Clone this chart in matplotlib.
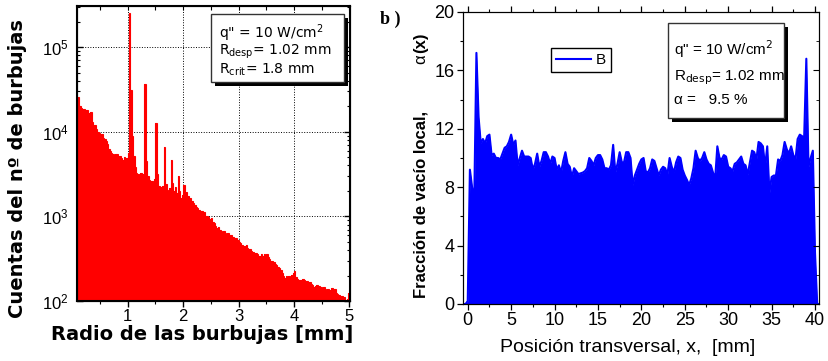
import numpy as np
import matplotlib.pyplot as plt
from matplotlib.patches import Rectangle
from matplotlib.ticker import MultipleLocator, LogLocator, NullFormatter

# (a) histograma de radios de burbuja, bins de 0.025 mm desde 0.1 mm
bin_start = 0.1
bin_width = 0.025
counts = [
    26000, 20000, 19000, 17800, 18600, 15800, 18200, 14800, 16600, 17000,
    13200, 11800, 12000, 10700, 10000, 9800, 9100, 9300, 8500, 8300,
    7700, 7100, 6300, 6000, 5600, 5400, 5100, 5500, 5400, 5100,
    5200, 4900, 4600, 5000, 4700, 4900, 5600, 257000, 31000, 8900,
    5200, 3800, 3300, 3200, 3100, 3300, 2950, 3150, 37000, 4500,
    3000, 2700, 2600, 2650, 2500, 2800, 12600, 3150, 2300, 2250,
    2200, 2300, 6600, 2400, 2050, 2000, 2150, 4700, 2500, 2000,
    2200, 1900, 3000, 2000, 1650, 1780, 2350, 1860, 1950, 1740,
    1620, 1660, 1510, 1450, 1380, 1290, 1260, 1200, 1150, 1170,
    1100, 1120, 1020, 1000, 980, 930, 950, 870, 830, 780,
    720, 740, 690, 680, 660, 670, 630, 620, 630, 590,
    600, 575, 575, 550, 560, 525, 500, 490, 455, 435,
    445, 455, 425, 415, 415, 390, 380, 370, 365, 355,
    340, 345, 355, 340, 360, 345, 355, 330, 310, 300,
    295, 290, 275, 265, 250, 245, 235, 215, 200, 185,
    200, 190, 195, 185, 205, 215, 225, 190, 180, 178,
    178, 175, 180, 178, 170, 174, 165, 170, 160, 155,
    148, 152, 155, 148, 152, 145, 142, 145, 138, 135,
    138, 132, 135, 142, 132, 138, 126, 120, 118, 112,
    115, 105, 110, 80, 107, 126,
]

# (b) fraccion de vacio local, muestreada cada 0.25 mm desde -0.5 mm
x_start = -0.5
x_step = 0.25
alpha_x = [
    0, 0, 0.2, 9.2, 8.0, 7.1, 17.2, 12.8, 11.0, 11.3,
    11.0, 11.5, 11.6, 10.2, 10.3, 10.0, 10.0, 9.9, 10.3, 10.7,
    10.8, 11.1, 11.6, 10.9, 11.2, 9.5, 10.0, 10.5, 10.1, 10.1,
    10.1, 10.0, 9.2, 9.6, 10.3, 9.4, 9.8, 10.4, 10.4, 10.1,
    9.6, 10.1, 10.0, 9.2, 9.5, 9.0, 9.8, 10.4, 9.6, 9.4,
    8.7, 9.3, 9.1, 8.9, 8.95, 9.0, 9.1, 9.3, 10.0, 9.8,
    9.5, 10.0, 10.2, 10.2, 9.9, 9.3, 9.3, 9.2, 9.5, 10.9,
    9.0, 9.6, 10.4, 9.7, 9.7, 10.4, 10.4, 10.0, 8.15, 8.8,
    9.2, 9.6, 9.9, 10.0, 9.1, 9.0, 9.3, 9.9, 9.8, 9.3,
    8.8, 9.2, 9.4, 9.3, 8.85, 10.0, 9.4, 9.0, 9.7, 10.1,
    10.0, 9.2, 8.8, 8.5, 8.15, 8.6, 9.3, 10.5, 10.0, 9.8,
    10.0, 10.4, 9.9, 9.6, 9.5, 9.0, 8.6, 10.8, 10.0, 9.9,
    10.2, 10.1, 9.4, 9.3, 9.1, 9.6, 9.7, 9.9, 10.1, 9.6,
    9.5, 8.85, 9.7, 10.5, 10.4, 9.9, 11.1, 11.0, 10.8, 9.4,
    10.8, 7.6, 8.7, 8.8, 8.8, 9.9, 9.8, 10.2, 11.1, 10.6,
    10.3, 10.8, 10.2, 9.9, 11.3, 11.6, 11.5, 11.4, 16.8, 9.4,
    10.0, 10.5, 3.5, 0, 0,
]

edges = bin_start + bin_width * np.arange(len(counts) + 1)
xpos = x_start + x_step * np.arange(len(alpha_x))

sans = 'Liberation Sans'

W, H = 829, 361
fig = plt.figure(figsize=(W / 100, H / 100), dpi=100)

def fx(px):
    return px / W

def fy(py):
    return 1 - py / H

# ---------------- panel izquierdo ----------------
ax1 = fig.add_axes([fx(77), fy(301), fx(350) - fx(77), fy(6) - fy(301)])
ax1.stairs(counts, edges, fill=True, baseline=1, color='#ff0000', lw=0)
ax1.stairs(counts, edges, baseline=None, color='#ff0000', lw=0.8)
ax1.set_yscale('log')
ax1.set_xlim(0.085, 5.01)
ax1.set_ylim(100, 3.07e5)
ax1.set_axisbelow(True)
ax1.grid(True, which='major', color='black', linestyle=':', linewidth=0.7)
ax1.xaxis.set_major_locator(MultipleLocator(1))
ax1.xaxis.set_minor_locator(MultipleLocator(0.5))
ax1.yaxis.set_minor_locator(LogLocator(base=10, subs=np.arange(2, 10)))
ax1.yaxis.set_minor_formatter(NullFormatter())
ax1.tick_params(axis='x', which='both', direction='out', labelsize=12, pad=2,
                labelfontfamily=sans)
ax1.tick_params(axis='y', which='both', direction='in', right=True, labelsize=12,
                pad=6, labelfontfamily=sans)
ax1.tick_params(which='major', length=4, width=1)
ax1.tick_params(which='minor', length=2.5, width=0.8)
for s in ax1.spines.values():
    s.set_linewidth(1.5)

ax1t = ax1.twiny()
ax1t.set_xlim(ax1.get_xlim())
ax1t.xaxis.set_major_locator(MultipleLocator(0.5))
ax1t.tick_params(axis='x', direction='in', length=3, labeltop=False)

fig.text(fx(18), fy(169), 'Cuentas del nº de burbujas', rotation=90, ha='center',
         va='center', fontsize=14, fontweight='bold', family='DejaVu Sans')
fig.text(fx(202), fy(335), 'Radio de las burbujas [mm]', ha='center', va='center',
         fontsize=14, fontweight='bold', family='DejaVu Sans')

# cuadro de texto con sombra
fig.add_artist(Rectangle((fx(215), fy(85.7)), fx(133.5), fy(14) - fy(81.7),
                         transform=fig.transFigure, facecolor='black', lw=0))
fig.add_artist(Rectangle((fx(211), fy(81.7)), fx(133.5), fy(14) - fy(81.7),
                         transform=fig.transFigure, facecolor='white',
                         edgecolor='#333333', lw=1))
fig.text(fx(219), fy(37.5), 'q" = 10 W/cm$^2$', fontsize=10, va='baseline')
fig.text(fx(219), fy(55), 'R$_\\mathrm{desp}$= 1.02 mm', fontsize=10, va='baseline')
fig.text(fx(219), fy(74), 'R$_\\mathrm{crit}$= 1.8 mm', fontsize=10, va='baseline')

fig.text(fx(380), fy(24), 'b )', fontsize=13, fontweight='bold',
         family='Liberation Serif', va='baseline')

# ---------------- panel derecho ----------------
ax2 = fig.add_axes([fx(462.7), fy(304), fx(819) - fx(462.7), fy(12) - fy(304)])
ax2.fill_between(xpos, alpha_x, 0, color='#0000ff', lw=0)
ax2.plot(xpos, alpha_x, color='#0000ff', lw=1.5, label='B')
ax2.set_xlim(-0.58, 40.46)
ax2.set_ylim(0, 20)
ax2.xaxis.set_major_locator(MultipleLocator(5))
ax2.xaxis.set_minor_locator(MultipleLocator(2.5))
ax2.yaxis.set_major_locator(MultipleLocator(4))
ax2.yaxis.set_minor_locator(MultipleLocator(2))
ax2.tick_params(axis='x', which='both', direction='out', top=True, labelsize=13,
                pad=2, labelfontfamily=sans)
ax2.tick_params(axis='y', which='both', direction='out', labelsize=13, pad=2,
                labelfontfamily=sans)
ax2.tick_params(which='major', length=4, width=0.9)
ax2.tick_params(which='minor', length=2.5, width=0.8)

ax2r = ax2.twinx()
ax2r.set_ylim(0, 20)
ax2r.yaxis.set_major_locator(MultipleLocator(4))
ax2r.yaxis.set_minor_locator(MultipleLocator(2))
ax2r.tick_params(axis='y', which='both', direction='in', labelright=False)
ax2r.tick_params(which='major', length=4)
ax2r.tick_params(which='minor', length=2.5)

leg = ax2.legend(loc='upper left', bbox_to_anchor=(0.247, 0.878), borderaxespad=0,
                 fancybox=False, edgecolor='black', framealpha=1, handlelength=2.3,
                 prop={'family': sans, 'size': 11}, borderpad=0.35, handletextpad=0.3)
leg.get_frame().set_linewidth(1)

fig.text(fx(628), fy(347), 'Posición transversal, x,  [mm]', ha='center', va='center',
         fontsize=14, family=sans)
fig.text(fx(421), fy(204), 'Fracción de vacío local,', rotation=90,
         ha='center', va='center', fontsize=12, fontweight='bold', family=sans)
fig.text(fx(421), fy(59), 'α', rotation=90, ha='center', va='center',
         fontsize=12, family=sans)
fig.text(fx(421), fy(42.5), '(x)', rotation=90, ha='center', va='center',
         fontsize=12, fontweight='bold', family=sans)

fig.add_artist(Rectangle((fx(672), fy(122)), fx(116.3), fy(22.7) - fy(117.7),
                         transform=fig.transFigure, facecolor='black', lw=0))
fig.add_artist(Rectangle((fx(667.7), fy(117.7)), fx(116.3), fy(22.7) - fy(117.7),
                         transform=fig.transFigure, facecolor='white',
                         edgecolor='#333333', lw=1))
fig.text(fx(674), fy(55), 'q" = 10 W/cm$^2$', fontsize=11, va='baseline', family=sans)
fig.text(fx(674), fy(80), 'R$_\\mathrm{desp}$= 1.02 mm', fontsize=11, va='baseline',
         family=sans)
fig.text(fx(674), fy(104), 'α =   9.5 %', fontsize=11, va='baseline', family=sans)

fig.savefig('out.png', dpi=100)
